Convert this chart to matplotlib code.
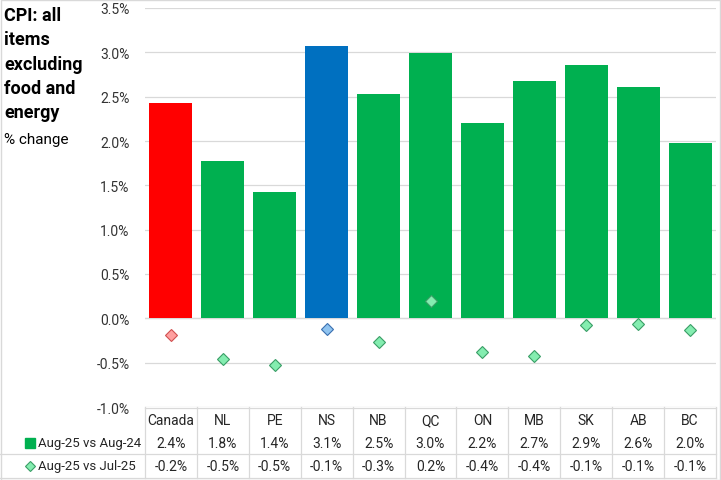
import matplotlib
matplotlib.use("Agg")
from matplotlib import pyplot as plt
from matplotlib.patches import Rectangle
import numpy as np

regions = ['Canada', 'NL', 'PE', 'NS', 'NB', 'QC', 'ON', 'MB', 'SK', 'AB', 'BC']
yearly = [2.43, 1.77, 1.42, 3.07, 2.53, 2.99, 2.20, 2.68, 2.86, 2.61, 1.98]
monthly = [-0.19, -0.46, -0.53, -0.12, -0.27, 0.20, -0.38, -0.43, -0.07, -0.06, -0.13]
yearly_labels = ['2.4%', '1.8%', '1.4%', '3.1%', '2.5%', '3.0%', '2.2%', '2.7%', '2.9%', '2.6%', '2.0%']
monthly_labels = ['-0.2%', '-0.5%', '-0.5%', '-0.1%', '-0.3%', '0.2%', '-0.4%', '-0.4%', '-0.1%', '-0.1%', '-0.1%']
row_names = ['Aug-25 vs Aug-24', 'Aug-25 vs Jul-25']
yticks = [-1.0, -0.5, 0.0, 0.5, 1.0, 1.5, 2.0, 2.5, 3.0, 3.5]

plt.rcParams['font.family'] = ['Roboto', 'DejaVu Sans']

W, H = 721, 481
fig = plt.figure(figsize=(W / 100, H / 100), dpi=100)

# bar colours: Canada red, NS blue, the rest green
bar_colors = ['#00B050'] * len(regions)
bar_colors[0] = '#FF0000'
bar_colors[3] = '#0070C0'
dia_face = ['#84EDB0'] * len(regions)
dia_edge = ['#3A9E66'] * len(regions)
dia_face[0], dia_edge[0] = '#FFA0A0', '#D05050'
dia_face[3], dia_edge[3] = '#90C4F0', '#3A70B0'

left, right = 145, 716
top, bottom = 9, 408
grid_c = '#D9D9D9'
txt_c = '#262626'

ax = fig.add_axes([left / W, 1 - bottom / H, (right - left) / W, (bottom - top) / H])
x = np.arange(len(regions))
ax.bar(x, yearly, width=0.83, color=bar_colors, zorder=2)
for i in range(len(regions)):
    ax.plot(x[i], monthly[i], marker='D', markersize=6.5, markerfacecolor=dia_face[i],
            markeredgecolor=dia_edge[i], markeredgewidth=0.8, linestyle='none', zorder=3)

ax.set_xlim(-0.5, len(regions) - 0.5)
ax.set_ylim(-1.0, 3.5)
ax.set_yticks(yticks)
ax.set_yticklabels([f'{v:.1f}%' for v in yticks], fontsize=10, color='#333333')
ax.tick_params(axis='y', length=0, pad=11)
ax.set_xticks([])
ax.yaxis.grid(True, color=grid_c, linewidth=0.9, zorder=0)
ax.set_axisbelow(True)
for s in ax.spines.values():
    s.set_visible(False)
ax.axhline(0, color=grid_c, linewidth=0.9, zorder=1)

# data table under the plot
tab = fig.add_axes([left / W, 0, (right - left) / W, (H - bottom) / H])
tab.set_xlim(-0.5, len(regions) - 0.5)
tab.set_ylim(H - bottom, 0)
tab.axis('off')
unit = (right - left) / len(regions)
label_x = -0.5 - left / unit  # figure left edge in data units

for i in range(len(regions) + 1):
    tab.plot([i - 0.5, i - 0.5], [0, 71], color=grid_c, linewidth=0.9, clip_on=False)
tab.plot([-0.5, len(regions) - 0.5], [0.5, 0.5], color=grid_c, linewidth=0.9, clip_on=False)
tab.plot([label_x, len(regions) - 0.5], [47, 47], color=grid_c, linewidth=0.9, clip_on=False)
tab.plot([label_x, len(regions) - 0.5], [71, 71], color=grid_c, linewidth=0.9, clip_on=False)

for i in range(len(regions)):
    tab.text(x[i], 13, regions[i], ha='center', va='center', fontsize=10, color=txt_c)
    tab.text(x[i], 36, yearly_labels[i], ha='center', va='center', fontsize=10, color=txt_c)
    tab.text(x[i], 59, monthly_labels[i], ha='center', va='center', fontsize=10, color=txt_c)

tab.plot(label_x + 30 / unit, 36, marker='s', markersize=6.5, color='#00B050', clip_on=False)
tab.plot(label_x + 30 / unit, 59, marker='D', markersize=5.5, markerfacecolor='#84EDB0',
         markeredgecolor='#3A9E66', markeredgewidth=0.8, clip_on=False)
tab.text(label_x + 38 / unit, 36, row_names[0], ha='left', va='center', fontsize=9.5, color=txt_c)
tab.text(label_x + 38 / unit, 59, row_names[1], ha='left', va='center', fontsize=9.5, color=txt_c)

fig.text(4 / W, 1 - 7 / H, 'CPI: all\nitems\nexcluding\nfood and\nenergy', ha='left', va='top',
         fontsize=13, fontweight='bold', linespacing=1.45, color='black')
fig.text(4 / W, 1 - 140 / H, '% change', ha='left', va='center', fontsize=11, color='black')

fig.patches.append(Rectangle((0.5 / W, 0.5 / H), 1 - 1.5 / W, 1 - 1.5 / H, transform=fig.transFigure,
                             fill=False, edgecolor=grid_c, linewidth=1))

fig.savefig('out.png', dpi=100)
